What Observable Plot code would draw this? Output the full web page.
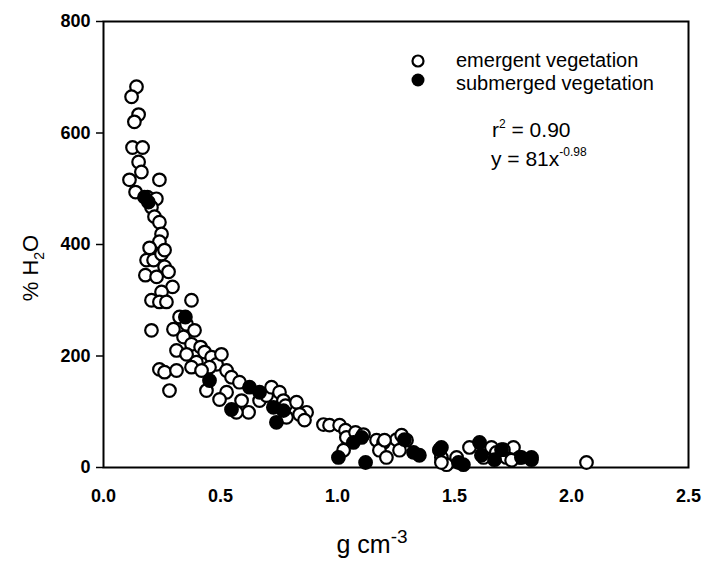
<!DOCTYPE html>
<html>
<head>
<meta charset="utf-8">
<script src="https://cdn.jsdelivr.net/npm/d3@7"></script>
<script src="https://cdn.jsdelivr.net/npm/@observablehq/plot@0.6"></script>
<style>
  html, body { margin: 0; padding: 0; background: #fff; }
  #chart { position: relative; width: 706px; height: 562px; }
</style>
</head>
<body>
<div id="chart"></div>
<script>
// Bulk density (g cm-3) vs water content (% H2O)
const emergentX = [0.141,0.120,0.150,0.132,0.124,0.167,0.150,0.162,0.111,0.239,0.137,0.188,0.226,0.205,0.218,0.239,0.248,0.239,0.197,0.184,0.214,0.248,0.261,0.261,0.278,0.179,0.227,0.295,0.248,0.205,0.239,0.269,0.376,0.205,0.325,0.355,0.299,0.342,0.389,0.376,0.415,0.312,0.355,0.432,0.462,0.483,0.504,0.397,0.453,0.239,0.261,0.312,0.376,0.419,0.526,0.547,0.581,0.440,0.282,0.526,0.496,0.590,0.620,0.568,0.667,0.697,0.718,0.752,0.769,0.778,0.825,0.868,0.838,0.859,0.782,0.940,0.966,1.009,1.034,1.038,1.026,1.077,1.111,1.167,1.197,1.179,1.209,1.252,1.274,1.295,1.265,1.436,1.444,1.466,1.509,1.564,1.658,1.624,1.679,1.722,1.752,1.778,1.201,1.444,1.709,1.744,2.064];
const emergentY = [683,665,633,620,574,574,548,530,516,516,494,485,482,467,450,440,419,405,394,372,372,383,390,360,351,345,342,324,315,300,297,297,300,246,270,257,248,234,246,221,216,210,203,207,198,185,203,189,180,176,171,174,180,174,174,162,153,138,138,135,122,120,99,99,120,129,144,135,120,111,117,99,95,85,90,77,76,76,67,54,31,63,59,49,45,31,18,50,58,49,31,31,18,5,18,36,36,18,27,18,36,18,49,9,32,13,9];

const submergedX = [0.175,0.192,0.350,0.453,0.547,0.624,0.667,0.726,0.739,0.769,1.004,1.068,1.103,1.120,1.286,1.325,1.350,1.436,1.444,1.517,1.538,1.607,1.615,1.671,1.701,1.786,1.829,1.829];
const submergedY = [485,476,270,156,104,144,135,108,81,102,18,45,54,9,50,27,22,32,36,9,5,45,22,14,32,18,18,14];

const xTicks = [0, 0.5, 1.0, 1.5, 2.0, 2.5];
const yTicks = [0, 200, 400, 600, 800];

const legendLabels = ["emergent vegetation", "submerged vegetation"];

const emergent = emergentX.map((x, i) => ({x, y: emergentY[i]}));
const submerged = submergedX.map((x, i) => ({x, y: submergedY[i]}));

const plot = Plot.plot({
  width: 706,
  height: 562,
  marginLeft: 103,
  marginRight: 18,
  marginTop: 21,
  marginBottom: 95,
  style: {fontFamily: "Liberation Sans, Arial, sans-serif", background: "#fff", color: "#000"},
  x: {domain: [0, 2.5], ticks: xTicks, tickFormat: d3.format(".1f"), label: null},
  y: {domain: [0, 800], ticks: yTicks, tickFormat: d3.format("d"), label: null},
  marks: [
    Plot.axisX({ticks: xTicks, tickFormat: d3.format(".1f"), tickSize: 0, tickPadding: 22, fontSize: 18, fontWeight: "bold", label: null}),
    Plot.axisY({ticks: yTicks, tickFormat: d3.format("d"), tickSize: 7, tickPadding: 6, fontSize: 18, fontWeight: "bold", strokeWidth: 1.5, label: null}),
    Plot.frame({stroke: "#000", strokeWidth: 2}),
    Plot.dot(emergent, {x: "x", y: "y", r: 6.3, fill: "#fff", stroke: "#000", strokeWidth: 2.2}),
    Plot.dot(submerged, {x: "x", y: "y", r: 6.3, fill: "#000", stroke: "#000", strokeWidth: 2.2})
  ]
});

document.getElementById("chart").appendChild(plot);

const svg = d3.select(plot);
const font = "Liberation Sans, Arial, sans-serif";

// Axis titles
const xt = svg.append("text").attr("x", 372).attr("y", 553).attr("text-anchor", "middle")
  .attr("font-family", font).attr("font-size", 25).attr("fill", "#000");
xt.append("tspan").text("g cm");
xt.append("tspan").attr("dy", -10).attr("font-size", 19).text("-3");

const yt = svg.append("text").attr("transform", "translate(38,268) rotate(-90)").attr("text-anchor", "middle")
  .attr("font-family", font).attr("font-size", 22).attr("fill", "#000");
yt.append("tspan").text("% H");
yt.append("tspan").attr("dy", 6).attr("font-size", 14).text("2");
yt.append("tspan").attr("dy", -6).text("O");

// Legend
svg.append("circle").attr("cx", 418).attr("cy", 61).attr("r", 5.5).attr("fill", "#fff").attr("stroke", "#000").attr("stroke-width", 2.2);
svg.append("circle").attr("cx", 418).attr("cy", 80).attr("r", 6.5).attr("fill", "#000");
svg.append("text").attr("x", 456).attr("y", 67).attr("text-anchor", "start").attr("font-family", font).attr("font-size", 20).attr("fill", "#000").text(legendLabels[0]);
svg.append("text").attr("x", 456).attr("y", 90).attr("text-anchor", "start").attr("font-family", font).attr("font-size", 20).attr("fill", "#000").text(legendLabels[1]);

// Fit statistics
const r2 = svg.append("text").attr("x", 492).attr("y", 137).attr("text-anchor", "start").attr("font-family", font).attr("font-size", 21).attr("fill", "#000");
r2.append("tspan").text("r");
r2.append("tspan").attr("dy", -9).attr("font-size", 12).text("2");
r2.append("tspan").attr("dy", 9).text(" = 0.90");

const eq = svg.append("text").attr("x", 491).attr("y", 166).attr("text-anchor", "start").attr("font-family", font).attr("font-size", 21).attr("fill", "#000");
eq.append("tspan").text("y = 81x");
eq.append("tspan").attr("dy", -10).attr("font-size", 12).text("-0.98");
</script>
</body>
</html>
